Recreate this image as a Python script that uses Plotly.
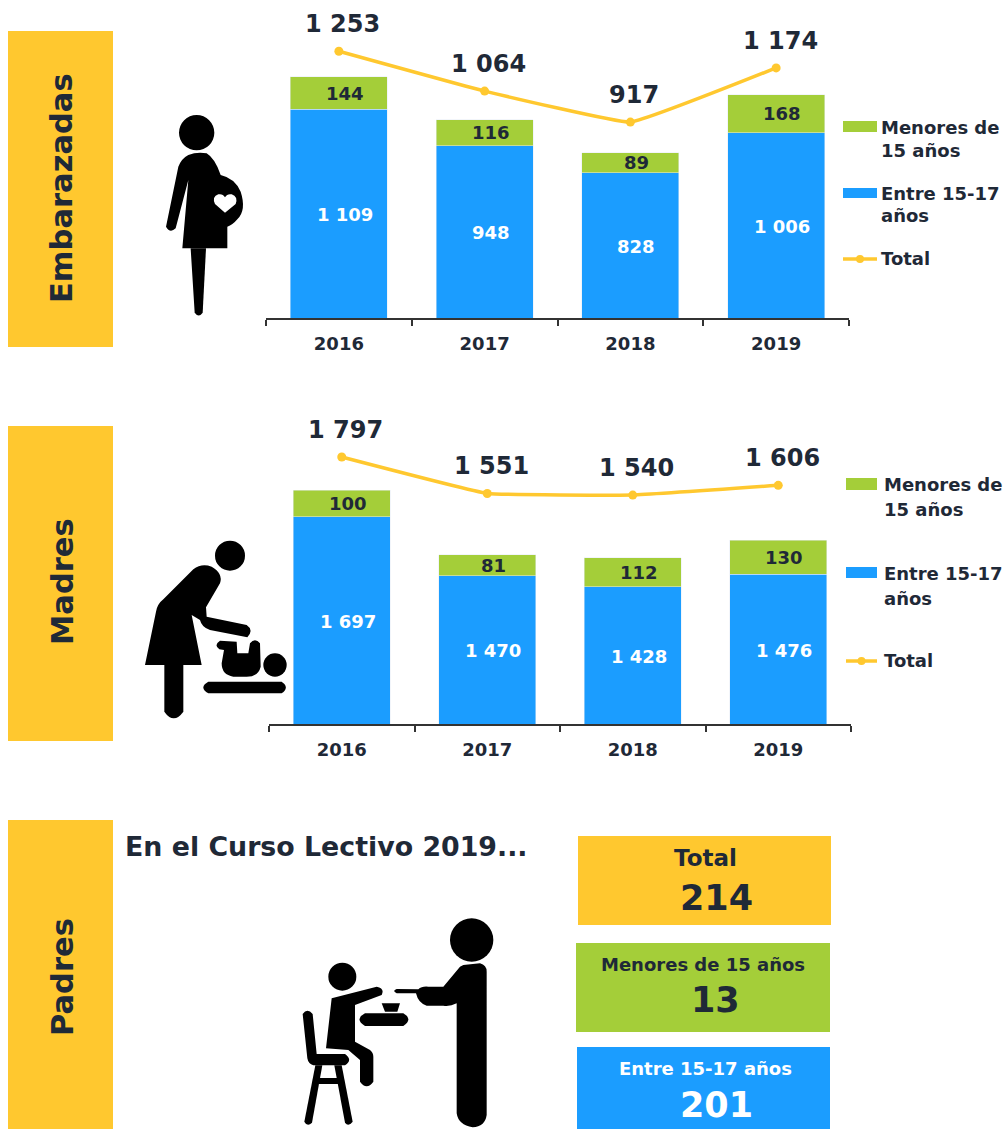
import re
import plotly.graph_objects as go

# ---- data ----
years = ["2016", "2017", "2018", "2019"]
emb_menores = [144, 116, 89, 168]
emb_entre = [1109, 948, 828, 1006]
emb_total = [1253, 1064, 917, 1174]
mad_menores = [100, 81, 112, 130]
mad_entre = [1697, 1470, 1428, 1476]
mad_total = [1797, 1551, 1540, 1606]
pad_labels = ["Total", "Menores de 15 años", "Entre 15-17 años"]
pad_values = [214, 13, 201]

BLUE, GREEN, YELLOW, DARK = "#1B9DFF", "#A4CE39", "#FFC82F", "#1F2937"
FONT = "DejaVu Sans"
W, H = 1004, 1129
EMB_FLOOR, MAD_FLOOR = 186, 905   # the bar axes do not start at zero


def fx(p):
    return p / W


def fy(p):
    return 1 - p / H


def fmt(v):
    return f"{v:,}".replace(",", " ")


fig = go.Figure()
ann = []


def data_label(x, y, xa, ya, s, size, color, yshift=0, xshift=6):
    ann.append(dict(x=x, y=y, xref=xa, yref=ya, text=f"<b>{s}</b>", showarrow=False, xshift=xshift, yshift=yshift,
                    xanchor="center", yanchor="middle", font=dict(family=FONT, size=size, color=color)))


def panel(idx, menores, entre, total, floor):
    xa = "x" if idx == 1 else f"x{idx}"
    ya = "y" if idx == 1 else "y3"
    ya2 = "y2" if idx == 1 else "y4"
    fig.add_bar(x=years, y=entre, xaxis=xa, yaxis=ya, marker_color=BLUE, name="Entre 15-17 años", showlegend=False)
    fig.add_bar(x=years, y=menores, xaxis=xa, yaxis=ya, marker_color=GREEN, name="Menores de 15 años", showlegend=False)
    fig.add_scatter(x=years, y=total, xaxis=xa, yaxis=ya2, mode="lines+markers", name="Total",
                    line=dict(color=YELLOW, width=3.5, shape="spline", smoothing=0.25),
                    marker=dict(color=YELLOW, size=9), showlegend=False, cliponaxis=False)
    # on a category axis an annotation's x is the category's serial number
    for i, (m, e, t) in enumerate(zip(menores, entre, total)):
        data_label(i, (floor + e) / 2, xa, ya, fmt(e), 18, "white", yshift=-1)
        data_label(i, e + m / 2, xa, ya, fmt(m), 18, DARK)
        data_label(i, t, xa, ya2, fmt(t), 24, DARK, yshift=27, xshift=4)


panel(1, emb_menores, emb_entre, emb_total, EMB_FLOOR)
panel(2, mad_menores, mad_entre, mad_total, MAD_FLOOR)


def xaxis(left, right, anchor):
    return dict(domain=[fx(left), fx(right)], anchor=anchor, type="category",
                showline=True, linecolor="#333333", linewidth=1.5, ticks="outside", ticklen=6,
                tickcolor="#333333", tickwidth=1.5, tickson="boundaries", showgrid=False, zeroline=False,
                ticklabelstandoff=9, tickangle=0,
                tickfont=dict(family=FONT, size=18, color=DARK, weight="bold"), fixedrange=True)


def yaxis(bottom, top, lo, scale, overlay=None):
    d = dict(domain=[fy(bottom), fy(top)], range=[lo, lo + (bottom - top) / scale], visible=False,
             fixedrange=True, anchor="x" if bottom < 400 else "x2")
    if overlay:
        d["overlaying"] = overlay
    return d


fig.update_layout(
    width=W, height=H, margin=dict(l=0, r=0, t=0, b=0), paper_bgcolor="white", plot_bgcolor="rgba(0,0,0,0)",
    barmode="stack", bargap=0.335, showlegend=False,
    xaxis=xaxis(266, 849, "y"), xaxis2=xaxis(269, 851, "y3"),
    yaxis=yaxis(318, 5, EMB_FLOOR, 0.226),
    yaxis2=yaxis(318, 5, -11.4, 0.211, "y"),
    yaxis3=yaxis(724, 410, MAD_FLOOR, 0.262),
    yaxis4=yaxis(724, 410, -6.8, 0.148, "y3"),
)

shapes = []


def rect(x0, y0, x1, y1, color):
    shapes.append(dict(type="rect", xref="paper", yref="paper", x0=fx(x0), x1=fx(x1), y0=fy(y1), y1=fy(y0),
                       fillcolor=color, line_width=0, layer="below"))


def text(x, y, s, size, color=DARK, anchor="center", angle=0):
    ann.append(dict(xref="paper", yref="paper", x=fx(x), y=fy(y), text=f"<b>{s}</b>", showarrow=False,
                    xanchor=anchor, yanchor="middle", textangle=angle,
                    font=dict(family=FONT, size=size, color=color)))


# side blocks
for y0, y1, label, cy in [(31, 347, "Embarazadas", 188), (426, 741, "Madres", 582), (820, 1129, "Padres", 977)]:
    rect(8, y0, 113, y1, YELLOW)
    text(62, cy, label, 30.5, angle=-90)


def legend(sw0, sw1, tx, g0, g1, b0, b1, ly, rows):
    rect(sw0, g0, sw1, g1, GREEN)
    rect(sw0, b0, sw1, b1, BLUE)
    shapes.append(dict(type="line", xref="paper", yref="paper", x0=fx(sw0), x1=fx(sw1), y0=fy(ly), y1=fy(ly),
                       line=dict(color=YELLOW, width=3.5)))
    shapes.append(dict(type="circle", xref="paper", yref="paper", x0=fx((sw0 + sw1) / 2 - 4), x1=fx((sw0 + sw1) / 2 + 4),
                       y0=fy(ly + 4), y1=fy(ly - 4), fillcolor=YELLOW, line_width=0))
    for s, y in rows:
        text(tx, y, s, 18, anchor="left")


legend(843, 877, 879, 121, 132, 188, 198, 259,
       [("Menores de", 127), ("15 años", 150), ("Entre 15-17", 193), ("años", 216), ("Total", 258)])
legend(846, 877, 882, 478, 490, 567, 578, 661,
       [("Menores de", 484), ("15 años", 509), ("Entre 15-17", 573), ("años", 598), ("Total", 660)])

# Padres panel
text(123, 846, "En el Curso Lectivo 2019...", 26.8, anchor="left")
boxes = [(578, 836, 831, 925, YELLOW, DARK, 705, 858, 716, 898),
         (576, 943, 830, 1032, GREEN, DARK, 703, 964, 715, 1000),
         (577, 1047, 830, 1129, BLUE, "white", 705, 1068, 716, 1105)]
for (x0, y0, x1, y1, c, tc, lx, ly, vx, vy), lab, val in zip(boxes, pad_labels, pad_values):
    rect(x0, y0, x1, y1, c)
    text(lx, ly, lab, 23 if lab == "Total" else 18, tc)
    text(vx, vy, str(val), 35, tc)


# ---- pictograms, written in crop coordinates (3x) ----
def path(d, ox, oy, color="black"):
    nums = re.sub(r"(-?[\d.]+),(-?[\d.]+)",
                  lambda m: f"{fx(ox + float(m[1]) / 3):.5f},{fy(oy + float(m[2]) / 3):.5f}", d)
    shapes.append(dict(type="path", xref="paper", yref="paper", path=nums, fillcolor=color, line_width=0))


def disc(cx, cy, r, ox, oy):
    shapes.append(dict(type="circle", xref="paper", yref="paper",
                       x0=fx(ox + (cx - r) / 3), x1=fx(ox + (cx + r) / 3),
                       y0=fy(oy + (cy + r) / 3), y1=fy(oy + (cy - r) / 3), fillcolor="black", line_width=0))


# pregnant woman
o = (150, 100)
disc(140, 98, 53, *o)
path("M 115,165 Q 140,155 170,160 Q 195,175 212,225 Q 255,235 272,275 Q 290,330 262,358 Q 248,375 232,380 "
     "L 232,445 L 97,445 L 115,240 L 77,385 Q 60,402 48,380 L 85,200 Q 95,175 115,165 Z", *o)
path("M 122,445 L 168,445 L 158,638 Q 146,655 134,638 Z", *o)
path("M 225,338 L 195,312 Q 185,290 205,283 Q 218,280 225,292 Q 232,280 245,283 Q 265,290 257,312 Z", *o, color="white")

# mother changing baby
o = (130, 530)
disc(300, 77, 45, *o)
path("M 190,118 Q 215,98 245,110 Q 280,130 270,160 L 228,232 L 230,260 L 350,285 Q 372,300 352,322 "
     "L 240,300 Q 215,292 210,270 L 185,255 L 215,405 L 45,405 L 78,245 Q 82,222 100,208 Z", *o)
path("M 103,405 L 160,405 L 160,545 Q 131,585 103,545 Z", *o)
path("M 270,332 L 320,335 L 322,370 L 355,370 L 360,340 Q 375,322 390,340 L 392,410 Q 385,440 350,440 "
     "L 310,440 Q 275,435 275,400 L 282,360 L 268,358 Q 250,345 270,332 Z", *o)
disc(435, 405, 35, *o)
path("M 235,455 L 455,455 Q 480,472 455,490 L 235,490 Q 205,472 235,455 Z", *o)

# father feeding child
o = (290, 910)
disc(545, 90, 65, *o)
path("M 520,165 L 570,160 Q 590,165 590,185 L 590,615 Q 585,650 548,652 Q 505,645 500,610 L 500,280 "
     "Q 480,290 460,287 L 410,287 Q 385,280 378,250 L 320,250 Q 305,243 320,237 L 385,238 Q 395,228 415,230 "
     "L 460,230 L 510,170 Z", *o)
disc(157, 200, 42, *o)
path("M 125,265 L 260,230 Q 285,235 275,255 L 195,285 L 195,395 L 240,420 Q 250,428 250,440 L 250,515 "
     "Q 230,542 210,515 L 210,450 L 175,420 L 108,415 Z", *o)
path("M 38,312 Q 52,292 68,312 L 80,432 L 165,432 Q 190,450 165,466 L 70,466 Q 55,462 52,445 Z", *o)
path("M 76,466 L 97,466 L 66,638 Q 52,652 43,635 Z", *o)
path("M 133,466 L 155,466 L 188,635 Q 175,652 165,638 Z", *o)
path("M 85,504 L 150,504 L 150,522 L 85,522 Z", *o)
path("M 275,280 L 330,280 L 322,305 L 285,305 Z", *o)
path("M 225,310 L 340,310 Q 370,328 340,348 L 225,348 Q 192,328 225,310 Z", *o)

fig.update_layout(shapes=shapes, annotations=ann)
fig.write_html("out.html", config=dict(displayModeBar=False), post_script="document.body.style.margin='0';")
